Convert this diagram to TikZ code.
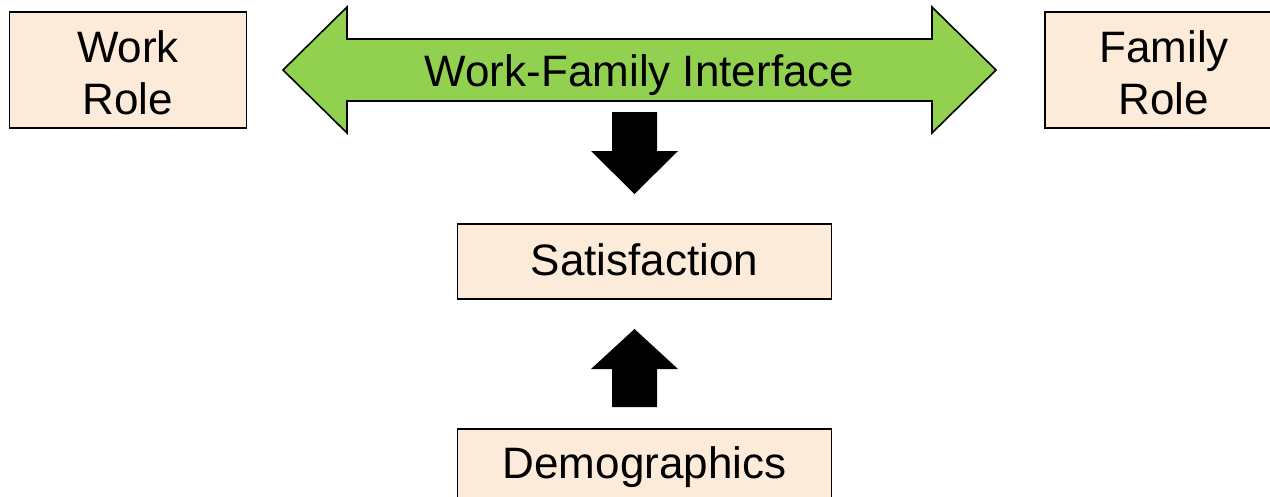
\documentclass[tikz,border=0pt]{standalone}
\usepackage{fontspec}
\setmainfont{Liberation Sans}
\definecolor{peach}{HTML}{FDEBD9}
\definecolor{leaf}{HTML}{92D050}
\begin{document}
\begin{tikzpicture}[x=1pt,y=-1pt,
  rolebox/.style={draw=black,line width=1.6pt,fill=peach,inner sep=0pt},
  label/.style={font=\fontsize{44}{52}\selectfont,align=center},
  blockarrow/.style={fill=black,draw=none}]
\useasboundingbox (0,0) rectangle (1270,496);
\begin{scope}
\clip (0,0) rectangle (1270,496);
% role boxes
\node[rolebox,minimum width=237pt,minimum height=116pt] (work) at (128,70) {};
\node[label] at (128,73) {Work\\Role};
\node[rolebox,minimum width=238pt,minimum height=116pt] (family) at (1164,70) {};
\node[label] at (1164,73) {Family\\Role};
\node[rolebox,minimum width=374pt,minimum height=75pt] (sat) at (644.5,261.5) {};
\node[label] at (644.5,260) {Satisfaction};
\node[rolebox,minimum width=374pt,minimum height=75pt] (demo) at (644.5,466.5) {};
\node[label] at (644.5,467) {Demographics};
% two-headed interface arrow
\draw[line width=1.6pt,fill=leaf,line join=miter]
  (283,70) -- (347,7) -- (347,39) -- (932,39) -- (932,7) -- (996,70)
  -- (932,133) -- (932,101) -- (347,101) -- (347,133) -- cycle;
\node[label] (wfi) at (639.5,75) {Work-Family Interface};
% interface to satisfaction
\fill[blockarrow] (612,112) -- (657,112) -- (657,151) -- (678,151) -- (634.5,194)
  -- (591,151) -- (612,151) -- cycle;
% demographics to satisfaction
\fill[blockarrow] (612,407) -- (657,407) -- (657,369) -- (678,369) -- (634.5,329)
  -- (591,369) -- (612,369) -- cycle;
\end{scope}
\end{tikzpicture}
\end{document}
